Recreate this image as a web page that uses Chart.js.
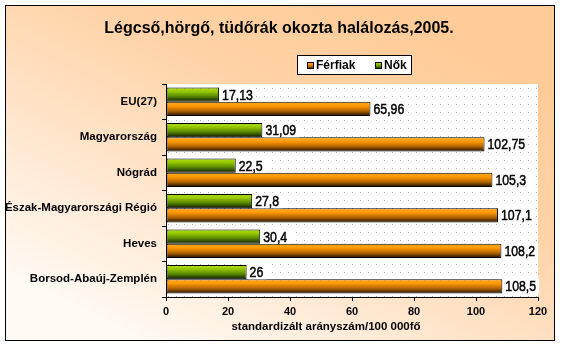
<!DOCTYPE html>
<html>
<head>
<meta charset="utf-8">
<script src="https://cdn.jsdelivr.net/npm/chart.js@4/dist/chart.umd.min.js"></script>
<style>
  body { margin: 0; background: #fff; }
  #wrap { width: 561px; height: 346px; }
</style>
</head>
<body>
<div id="wrap"><canvas id="theChart" width="561" height="346"></canvas></div>
<script>
const TITLE = "Légcső,hörgő, tüdőrák okozta halálozás,2005.";
const X_TITLE = "standardizált arányszám/100 000fő";
const REGIONS = ["EU(27)", "Magyarország", "Nógrád", "Észak-Magyarországi Régió", "Heves", "Borsod-Abaúj-Zemplén"];
const FERFIAK = [65.96, 102.75, 105.3, 107.1, 108.2, 108.5];
const NOK = [17.13, 31.09, 22.5, 27.8, 30.4, 26];
const X_MIN = 0;
const X_MAX = 120;
const X_STEP = 20;

const ARIAL = '"Liberation Sans", Arial, sans-serif';

const GREEN_STOPS = [[0, "#b0dc1c"], [0.25, "#99cc00"], [0.6, "#5c8c00"], [1, "#0c1800"]];
const ORANGE_STOPS = [[0, "#ffa826"], [0.3, "#ff9900"], [0.65, "#b06400"], [1, "#1c0c00"]];

function fmt(v) {
  return String(v).replace(".", ",");
}

function gradient(ctx, top, height, stops) {
  const g = ctx.createLinearGradient(0, top, 0, top + height);
  stops.forEach(s => g.addColorStop(s[0], s[1]));
  return g;
}

// dotted white plot background
function dotPattern(ctx) {
  const c = document.createElement("canvas");
  c.width = 8;
  c.height = 8;
  const p = c.getContext("2d");
  p.fillStyle = "#ffffff";
  p.fillRect(0, 0, 8, 8);
  p.fillStyle = "#b4b4b4";
  p.fillRect(0, 0, 1, 1);
  return ctx.createPattern(c, "repeat");
}

const background = {
  id: "background",
  beforeDraw(chart) {
    const ctx = chart.ctx;
    const a = chart.chartArea;
    ctx.save();
    ctx.fillStyle = "#ffffff";
    ctx.fillRect(0, 0, chart.width, chart.height);
    const g = ctx.createLinearGradient(360, 0, 180, 360);
    g.addColorStop(0, "#ffcc99");
    g.addColorStop(0.3, "#ffd2a6");
    g.addColorStop(1, "#fff9f3");
    ctx.fillStyle = g;
    ctx.fillRect(5, 5, 550, 336);
    ctx.strokeStyle = "#000000";
    ctx.lineWidth = 1;
    ctx.strokeRect(5.5, 5.5, 549, 335);
    ctx.fillStyle = dotPattern(ctx);
    ctx.fillRect(a.left, a.top, a.right - a.left, a.bottom - a.top);

    // title
    ctx.fillStyle = "#000000";
    ctx.font = "bold 16px " + ARIAL;
    ctx.textAlign = "center";
    ctx.textBaseline = "middle";
    ctx.fillText(TITLE, 279, 29);

    // legend
    ctx.fillStyle = "#ffffff";
    ctx.fillRect(297, 55, 115, 20);
    ctx.strokeRect(297.5, 55.5, 114, 19);
    const items = [[307, "Férfiak", ORANGE_STOPS], [375, "Nők", GREEN_STOPS]];
    ctx.font = "bold 12px " + ARIAL;
    ctx.textAlign = "left";
    items.forEach(it => {
      ctx.fillStyle = gradient(ctx, 62, 7, it[2]);
      ctx.fillRect(it[0], 62, 7, 7);
      ctx.strokeStyle = "#000000";
      ctx.strokeRect(it[0] + 0.5, 62.5, 6, 6);
      ctx.fillStyle = "#000000";
      ctx.fillText(it[1], it[0] + 9, 66);
    });

    // x axis title
    ctx.font = "bold 11.5px " + ARIAL;
    ctx.textAlign = "center";
    ctx.fillText(X_TITLE, 326, 327);
    ctx.restore();
  }
};

const barGradients = {
  id: "barGradients",
  beforeDatasetsDraw(chart) {
    const ctx = chart.ctx;
    chart.data.datasets.forEach((ds, i) => {
      chart.getDatasetMeta(i).data.forEach(bar => {
        const top = bar.y - bar.height / 2;
        bar.options.backgroundColor = gradient(ctx, top, bar.height, ds.stops);
      });
    });
  }
};

const valueLabels = {
  id: "valueLabels",
  afterDatasetsDraw(chart) {
    const ctx = chart.ctx;
    const sx = 0.82; // narrow face
    ctx.save();
    ctx.font = "15px " + ARIAL;
    ctx.textBaseline = "middle";
    ctx.textAlign = "left";
    chart.data.datasets.forEach((ds, i) => {
      chart.getDatasetMeta(i).data.forEach((bar, j) => {
        const txt = fmt(ds.data[j]);
        const w = ctx.measureText(txt).width * sx;
        const top = bar.y - bar.height / 2;
        ctx.fillStyle = "#ffffff";
        ctx.fillRect(bar.x + 1, top - 1, w + 5, bar.height + 1);
        ctx.fillStyle = "#000000";
        ctx.strokeStyle = "#000000";
        ctx.lineWidth = 0.5;
        ctx.save();
        ctx.translate(bar.x + 3, bar.y + 1);
        ctx.scale(sx, 1);
        ctx.fillText(txt, 0, 0);
        ctx.strokeText(txt, 0, 0);
        ctx.restore();
      });
    });
    ctx.restore();
  }
};

const data = {
  labels: REGIONS,
  datasets: [
    {
      label: "Nők",
      data: NOK,
      stops: GREEN_STOPS,
      backgroundColor: (c) => "#99cc00",
      borderColor: "#000000",
      borderWidth: 1,
      borderSkipped: false,
      categoryPercentage: 0.8,
      barPercentage: 1,
    },
    {
      label: "Férfiak",
      data: FERFIAK,
      stops: ORANGE_STOPS,
      backgroundColor: (c) => "#ff9900",
      borderColor: "#000000",
      borderWidth: 1,
      borderSkipped: false,
      categoryPercentage: 0.8,
      barPercentage: 1,
    },
  ],
};

const config = {
  type: "bar",
  data: data,
  options: {
    indexAxis: "y",
    responsive: false,
    animation: false,
    events: [],
    layout: {
      padding: { top: 84, right: 23, left: 0, bottom: 0 },
    },
    plugins: {
      legend: { display: false },
      title: { display: false },
      tooltip: { enabled: false },
    },
    scales: {
      x: {
        min: X_MIN,
        max: X_MAX,
        ticks: {
          stepSize: X_STEP,
          color: "#000000",
          padding: 4,
          font: { family: ARIAL, size: 11, weight: "bold" },
        },
        grid: {
          drawOnChartArea: false,
          tickLength: 4,
          color: "#000000",
        },
        border: { color: "#000000", width: 1 },
        afterFit(scale) {
          scale.height = 49;
        },
      },
      y: {
        ticks: {
          color: "#000000",
          padding: 5,
          font: { family: ARIAL, size: 11.5, weight: "bold" },
        },
        grid: {
          drawOnChartArea: false,
          tickLength: 4,
          color: "#000000",
        },
        border: { color: "#000000", width: 1 },
        afterFit(scale) {
          scale.width = 166;
        },
      },
    },
  },
  plugins: [background, barGradients, valueLabels],
};

const theChart = new Chart(document.getElementById("theChart"), config);
</script>
</body>
</html>
